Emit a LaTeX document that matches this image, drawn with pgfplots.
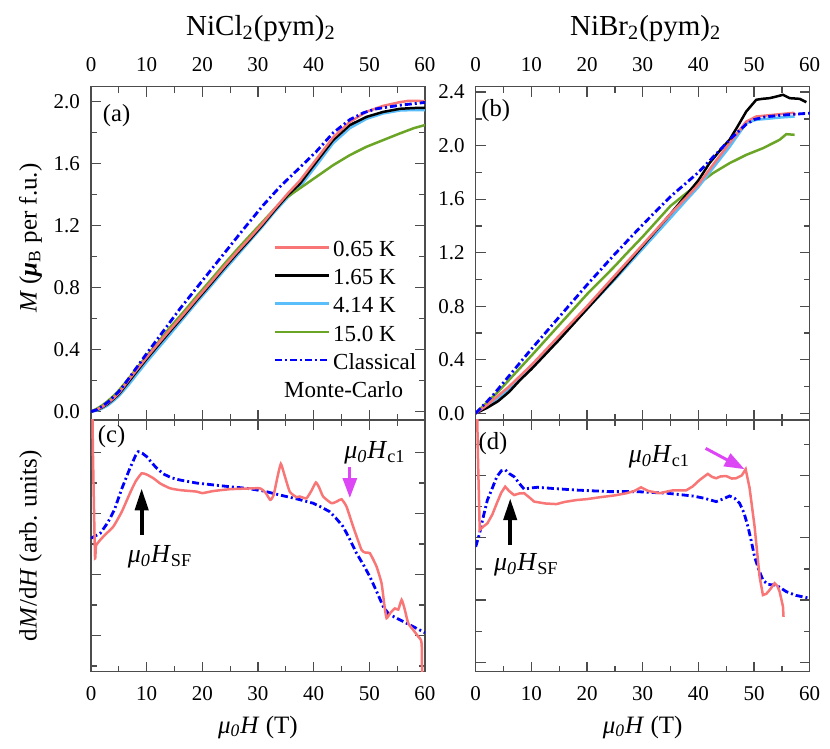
\documentclass[border=0pt]{standalone}
\usepackage{pgfplots}
\pgfplotsset{compat=1.18}
\usepackage{fontspec}
\setmainfont{Liberation Serif}
\usetikzlibrary{arrows.meta}

\definecolor{cred}{RGB}{248,118,118}
\definecolor{cblk}{RGB}{0,0,0}
\definecolor{clb}{RGB}{90,190,250}
\definecolor{cgrn}{RGB}{107,165,38}
\definecolor{cblu}{RGB}{0,0,255}
\definecolor{cmag}{RGB}{220,70,245}

\pgfplotsset{
  panel/.style={
    scale only axis, width=167pt, xmin=0, xmax=60,
    axis line style={black!70, line width=0.65pt},
    every tick/.style={black!70, line width=0.65pt},
    major tick length=5pt, minor tick length=3pt,
    tick align=inside,
    xtick={0,10,...,60}, minor xtick={5,15,...,55},
    xtick pos=both, ytick pos=both,
    tick label style={font=\fontsize{10.5}{12}\selectfont},
    /pgf/number format/assume math mode=true,
    yticklabel style={xshift=-2pt,/pgf/number format/fixed,/pgf/number format/fixed zerofill,/pgf/number format/precision=1},
    clip=true,
  },
  toppanel/.style={panel, height=166.6pt, xticklabel pos=upper,
    xticklabel style={yshift=4.2pt},
    title style={at={(0.5,1)}, anchor=base, yshift=19.85pt, xshift=1.5pt, font=\fontsize{14.5}{17}\selectfont}},
  botpanel/.style={panel, height=125.85pt, xticklabel pos=lower,
    xticklabel style={yshift=-4pt}, yticklabels={},
    xlabel={\textit{μ}\textsubscript{\textit{0}}\textit{H} (T)},
    xlabel style={at={(axis description cs:0.5,0)}, anchor=base, yshift=-30.7pt, font=\fontsize{12.5}{15}\selectfont}},
  exp/.style={line width=1.25pt},
  cls/.style={cblu, line width=1.4pt, dash pattern=on 3.5pt off 1.5pt on 1pt off 1.5pt},
}

\newcommand{\mhsf}{\textit{μ}\textsubscript{\textit{0}}\textit{H}\textsubscript{SF}}
\newcommand{\mhc}{\textit{μ}\textsubscript{\textit{0}}\textit{H}\textsubscript{c1}}

\begin{document}
\begin{tikzpicture}
\useasboundingbox (0,0) rectangle (415pt,374.5pt);

% ---------------- (a) ----------------
\begin{axis}[toppanel, at={(45.5pt,164.5pt)}, anchor=south west,
  ymin=-0.054, ymax=2.097,
  ytick={0,0.4,0.8,1.2,1.6,2.0}, minor ytick={0.2,0.6,1.0,1.4,1.8},
  title={NiCl\textsubscript{2}(pym)\textsubscript{2}},
  ylabel={\textit{M} (\textbf{\textit{μ}}\textsubscript{B} per f.u.)},
  ylabel style={at={(axis description cs:-0.1626,0.546)}, anchor=base, font=\fontsize{12.5}{15}\selectfont},
  legend style={at={(axis description cs:0.545,0.552)}, anchor=north west, draw=none, fill=none,
    inner sep=0pt, row sep=3.3pt, column sep=1.5pt, font=\fontsize{11.5}{13.8}\selectfont,
    nodes={inner sep=0pt, text height=10pt, text depth=0.8pt}},
  legend cell align=left,
  legend image code/.code={\draw[#1] (0pt,0pt) -- (27pt,0pt);},
]
\addlegendimage{exp, cred}\addlegendentry{0.65 K}
\addlegendimage{exp, cblk}\addlegendentry{1.65 K}
\addlegendimage{exp, clb}\addlegendentry{4.14 K}
\addlegendimage{exp, cgrn}\addlegendentry{15.0 K}
\addlegendimage{cls}\addlegendentry{Classical}
\addlegendimage{empty legend}\addlegendentry{\hspace*{-24.5pt}Monte-Carlo}

\addplot[exp, clb, forget plot] coordinates {(0,0)(1,0.006)(2,0.02)(3,0.04)(4,0.068)(5,0.1)(6.7,0.17)(8,0.23)(10,0.32)(12.1,0.41)(14,0.49)(16.9,0.615)(19,0.705)(21.4,0.805)(24,0.915)(26.2,1.005)(28.5,1.1)(30.7,1.19)(33,1.29)(35.4,1.385)(37.5,1.45)(40.5,1.59)(43.5,1.733)(46.5,1.83)(49.5,1.89)(52.5,1.925)(55.5,1.944)(58,1.947)(60,1.946)};
\addplot[exp, cgrn, forget plot] coordinates {(0,0)(1,0.018)(2,0.04)(3,0.068)(4,0.1)(5,0.137)(6.7,0.21)(8,0.27)(10,0.36)(12.1,0.45)(14,0.535)(16.9,0.655)(19,0.745)(21.4,0.845)(24,0.955)(26.2,1.045)(28.5,1.135)(30.7,1.22)(33,1.31)(35,1.38)(37.5,1.441)(40.5,1.516)(43.5,1.591)(46.5,1.656)(49.5,1.71)(52.5,1.753)(55.5,1.796)(58,1.83)(60,1.85)};
\addplot[exp, cblk, forget plot] coordinates {(0,0)(1,0.01)(2,0.027)(3,0.05)(4,0.08)(5,0.113)(6.7,0.19)(8,0.25)(10,0.34)(12.1,0.43)(14,0.51)(16.9,0.63)(19,0.72)(21.4,0.82)(24,0.93)(26.2,1.02)(28.5,1.11)(30.7,1.2)(33,1.3)(35.4,1.4)(37.5,1.47)(40.5,1.613)(43.5,1.753)(46.5,1.85)(49.5,1.903)(52.5,1.935)(55.5,1.955)(58,1.96)(60,1.961)};
\addplot[exp, cred, forget plot] coordinates {(0,0)(1,0.012)(2,0.03)(3,0.055)(4,0.085)(5,0.12)(6.7,0.2)(8,0.26)(10,0.35)(12.1,0.44)(14,0.52)(16.9,0.64)(19,0.73)(21.4,0.83)(24,0.94)(26.2,1.03)(28.5,1.12)(30.7,1.21)(33,1.31)(35.4,1.41)(37.5,1.49)(40.5,1.63)(43.5,1.77)(46.5,1.87)(49.5,1.936)(52.5,1.974)(55.5,1.998)(57,2.006)(60,2.005)};
\addplot[cls, forget plot] coordinates {(0,0)(1,0.012)(2,0.035)(3,0.06)(4,0.095)(5,0.13)(6,0.175)(8,0.275)(10,0.375)(13,0.52)(16,0.665)(19,0.8)(22,0.935)(25,1.07)(27.9,1.2)(31,1.335)(33.9,1.45)(37.5,1.575)(40.5,1.68)(43.5,1.8)(46.5,1.885)(49,1.93)(51.3,1.955)(55.5,1.978)(60,1.996)};
\node[font=\fontsize{12.3}{14}\selectfont] at (axis cs:4.6,1.914) {(a)};
\end{axis}

% ---------------- (b) ----------------
\begin{axis}[toppanel, at={(237.85pt,164.5pt)}, anchor=south west,
  ymin=-0.05, ymax=2.44,
  ytick={0,0.4,0.8,1.2,1.6,2.0,2.4}, minor ytick={0.2,0.6,1.0,1.4,1.8,2.2},
  title={NiBr\textsubscript{2}(pym)\textsubscript{2}},
]
\addplot[exp, cgrn] coordinates {(0,0)(2,0.08)(4,0.16)(6,0.25)(10,0.43)(15,0.66)(20,0.89)(25,1.1)(27.1,1.194)(30,1.32)(35,1.55)(38,1.65)(40.2,1.72)(42.6,1.794)(45.6,1.869)(48.6,1.931)(51.6,1.981)(54.6,2.044)(55.8,2.086)(57.3,2.081)};
\addplot[exp, clb] coordinates {(0,0)(2,0.05)(4,0.11)(6,0.18)(10,0.34)(15,0.56)(20,0.78)(25,1.0)(30,1.23)(35,1.46)(38,1.6)(40,1.69)(42.6,1.831)(45.6,1.99)(48.6,2.168)(50.4,2.193)(54.6,2.21)(57.3,2.218)};
\addplot[exp, cblk] coordinates {(0,0)(2,0.04)(4,0.09)(6,0.16)(8,0.25)(10,0.33)(15,0.55)(20,0.78)(25,1.01)(30,1.25)(35,1.49)(38,1.64)(40,1.74)(42,1.87)(44,1.97)(45.6,2.044)(47,2.14)(48.6,2.255)(50.4,2.343)(51.5,2.35)(52.8,2.355)(54,2.367)(55.2,2.38)(56.4,2.355)(58.2,2.35)(59.4,2.325)};
\addplot[exp, cred] coordinates {(0,0)(2,0.06)(4,0.13)(6,0.2)(8,0.28)(10,0.36)(15,0.58)(20,0.8)(25,1.03)(30,1.26)(35,1.49)(38,1.62)(40,1.71)(42.6,1.856)(45.6,2.019)(48.6,2.18)(50.4,2.218)(54.6,2.235)(57,2.245)(57.5,2.23)};
\addplot[cls] coordinates {(0,0)(3,0.13)(6,0.28)(10,0.48)(15,0.72)(20,0.96)(25,1.19)(30,1.41)(35,1.62)(40,1.8)(43,1.93)(46,2.06)(48.6,2.16)(50,2.195)(52,2.215)(55,2.228)(60,2.243)};
\node[font=\fontsize{12.3}{14}\selectfont] at (axis cs:3.6,2.262) {(b)};
\end{axis}

% ---------------- (c) ----------------
\begin{axis}[botpanel, at={(45.5pt,38.65pt)}, anchor=south west,
  ymin=-0.187, ymax=8.07,
  ytick={1,3,5,7}, minor ytick={0,2,4,6},
  ylabel={d\textit{M}/d\textit{H} (arb. units)},
  ylabel style={at={(axis description cs:-0.1626,0.5)}, anchor=base, font=\fontsize{12.5}{15}\selectfont},
]
\addplot[cls] coordinates {(0,4.19)(1.7,4.36)(3,4.7)(4.2,5.12)(5.5,5.8)(7,6.49)(8,6.9)(8.5,7.03)(9.2,6.98)(10,6.87)(11,6.65)(11.8,6.49)(13,6.3)(14.5,6.17)(16,6.1)(19,6.0)(22,5.94)(25,5.88)(27.9,5.83)(31,5.74)(33.9,5.61)(37,5.48)(39.9,5.34)(41.5,5.2)(42.9,5.06)(44,4.85)(45.3,4.57)(46.5,4.15)(47.7,3.70)(49,3.3)(50.1,2.93)(51.3,2.45)(52.5,1.95)(53.5,1.7)(54.9,1.57)(56.5,1.42)(57.9,1.29)(60,1.09)};
\addplot[exp, cred, smooth, tension=0.3] coordinates {(0,12)(0.35,7)(0.72,3.59)(0.9,3.95)(1.5,4.1)(2.5,4.3)(4,4.57)(5.5,5.05)(7,5.67)(8,6.05)(9.1,6.32)(10,6.28)(11.2,6.16)(12.5,5.98)(14.2,5.83)(16,5.77)(19,5.72)(20,5.67)(22,5.74)(25,5.8)(28,5.82)(30.3,5.83)(31.3,5.7)(32.2,5.45)(32.8,5.6)(33.5,6.2)(34.1,6.63)(34.7,6.3)(35.7,5.72)(36.9,5.54)(37.5,5.56)(38.7,5.5)(39.6,5.75)(40.4,6.02)(41,5.85)(41.7,5.56)(43.2,5.34)(44.2,5.4)(45,5.47)(45.9,5.23)(47.1,4.57)(48.6,3.81)(49.3,3.72)(50.1,3.70)(51.3,3.26)(52.2,2.71)(52.7,2.0)(53.1,1.57)(53.8,1.75)(54.6,1.89)(55.2,1.85)(55.8,2.17)(56.3,1.9)(57,1.4)(57.9,1.18)(58.8,0.96)(59.4,0.74)(59.5,-1)};
\draw[line width=2pt, -{Triangle[width=6.5pt,length=11pt]}] (axis cs:9.1,4.3) -- (axis cs:9.1,5.83);
\draw[cmag, line width=1.5pt, -{Triangle[width=7pt,length=10pt]}] (axis cs:46.5,6.53) -- (axis cs:46.5,5.51);
\node[font=\fontsize{13}{15}\selectfont] at (axis cs:12.4,3.59) {\mhsf};
\node[font=\fontsize{13}{15}\selectfont] at (axis cs:51,6.98) {\mhc};
\node[font=\fontsize{12.3}{14}\selectfont] at (axis cs:3.7,7.53) {(c)};
\end{axis}

% ---------------- (d) ----------------
\begin{axis}[botpanel, at={(237.85pt,38.65pt)}, anchor=south west,
  ymin=-0.30, ymax=7.78,
  ytick={0,2,4,6}, minor ytick={1,3,5,7},
]
\addplot[cls] coordinates {(0,3.71)(0.7,4.14)(1.4,4.7)(2.1,5.21)(3,5.6)(3.8,5.96)(4.6,6.15)(5.3,6.18)(6.1,6.05)(6.9,5.96)(7.8,5.75)(8.7,5.56)(10,5.6)(11.1,5.62)(14,5.58)(18.1,5.53)(24.1,5.48)(28.9,5.48)(34.3,5.43)(39,5.34)(41,5.27)(43.2,5.16)(44.5,5.25)(45.6,5.34)(46.5,5.27)(47.4,5.11)(48.2,4.8)(48.9,4.36)(49.5,3.9)(50.1,3.39)(50.8,3.0)(51.6,2.64)(52.5,2.5)(54,2.48)(55.8,2.27)(57.5,2.15)(60,2.06)};
\addplot[exp, cred] coordinates {(0,12)(0.35,7)(0.72,4.25)(1.3,4.35)(2.1,4.46)(3,4.75)(3.8,5.11)(4.6,5.45)(5.3,5.64)(6,5.5)(6.9,5.37)(7.8,5.42)(8.7,5.43)(9.6,5.3)(10.5,5.16)(12.5,5.1)(14.5,5.08)(16,5.15)(18.1,5.21)(20,5.24)(22.3,5.3)(25,5.36)(27.1,5.43)(28.5,5.5)(29.7,5.62)(31,5.5)(33.1,5.43)(34.3,5.48)(35.4,5.52)(37.8,5.52)(39,5.65)(40.2,5.85)(41.7,6.05)(42.5,5.95)(43.2,5.91)(44,5.97)(45,5.98)(46,5.9)(46.8,5.91)(47.8,6.0)(48.5,6.2)(49.2,5.6)(50.1,4.36)(51,2.75)(51.6,2.16)(52.2,2.2)(52.8,2.32)(53.7,2.54)(54.2,2.45)(54.6,2.27)(55.2,1.79)(55.3,1.46)};
\draw[line width=2pt, -{Triangle[width=6.5pt,length=11pt]}] (axis cs:6.2,3.77) -- (axis cs:6.2,5.27);
\draw[cmag, line width=1.5pt, -{Triangle[width=7pt,length=10pt]}] (axis cs:41.3,6.87) -- (axis cs:48.3,6.2);
\node[font=\fontsize{13}{15}\selectfont] at (axis cs:9.1,3.12) {\mhsf};
\node[font=\fontsize{13}{15}\selectfont] at (axis cs:33.0,6.6) {\mhc};
\node[font=\fontsize{12.3}{14}\selectfont] at (axis cs:3.1,7.03) {(d)};
\end{axis}
\end{tikzpicture}
\end{document}
